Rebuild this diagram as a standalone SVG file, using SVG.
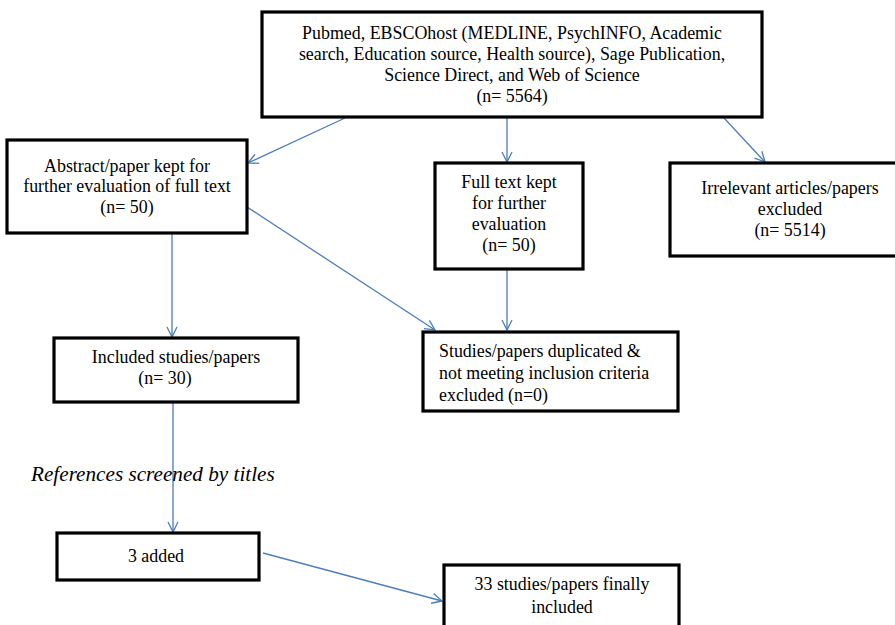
<svg xmlns="http://www.w3.org/2000/svg" width="895" height="625" viewBox="0 0 895 625">
<defs>
<style>
.box{fill:#fff;stroke:#000;stroke-width:3.2}
.t{font-family:"Liberation Serif","Times New Roman",serif;font-size:17.9px;fill:#000}
.c{text-anchor:middle}
.it{font-style:italic;font-size:21.2px}
.con{stroke:#4a7ebb;stroke-width:1.3;fill:none}
</style>
<marker id="ah" viewBox="0 0 12 12" refX="11" refY="6" markerWidth="12" markerHeight="12" markerUnits="userSpaceOnUse" orient="auto">
<path d="M1,1 L11,6 L1,11" fill="none" stroke="#4a7ebb" stroke-width="1.3"/>
</marker>
</defs>
<rect width="895" height="625" fill="#fff"/>
<g id="connectors">
<line class="con" x1="345" y1="118" x2="248" y2="163" marker-end="url(#ah)"/>
<line class="con" x1="507" y1="118" x2="507" y2="162" marker-end="url(#ah)"/>
<line class="con" x1="724" y1="118" x2="765" y2="162" marker-end="url(#ah)"/>
<line class="con" x1="247" y1="207" x2="435" y2="330" marker-end="url(#ah)"/>
<line class="con" x1="507" y1="270" x2="507" y2="330" marker-end="url(#ah)"/>
<line class="con" x1="172" y1="234" x2="172" y2="337" marker-end="url(#ah)"/>
<line class="con" x1="173" y1="403" x2="173" y2="532" marker-end="url(#ah)"/>
<line class="con" x1="263" y1="553" x2="442" y2="601" marker-end="url(#ah)"/>
</g>
<g id="n_sources">
<rect class="box" x="262" y="12" width="500" height="105"/>
<text class="t c" x="512" y="39">Pubmed, EBSCOhost (MEDLINE, PsychINFO, Academic</text>
<text class="t c" x="512" y="60">search, Education source, Health source), Sage Publication,</text>
<text class="t c" x="512" y="81">Science Direct, and Web of Science</text>
<text class="t c" x="512" y="102">(n= 5564)</text>
</g>
<g id="n_abstract">
<rect class="box" x="7" y="140" width="240" height="93"/>
<text class="t c" x="127" y="172">Abstract/paper kept for</text>
<text class="t c" x="127" y="192">further evaluation of full text</text>
<text class="t c" x="127" y="213">(n= 50)</text>
</g>
<g id="n_fulltext">
<rect class="box" x="435" y="163" width="148" height="106"/>
<text class="t c" x="509" y="188">Full text kept</text>
<text class="t c" x="509" y="209">for further</text>
<text class="t c" x="509" y="230">evaluation</text>
<text class="t c" x="509" y="251">(n= 50)</text>
</g>
<g id="n_irrelevant">
<rect class="box" x="670" y="163" width="240" height="93"/>
<text class="t c" x="790" y="194">Irrelevant articles/papers</text>
<text class="t c" x="790" y="215">excluded</text>
<text class="t c" x="790" y="236">(n= 5514)</text>
</g>
<g id="n_duplicated">
<rect class="box" x="423" y="332" width="255" height="79"/>
<text class="t" x="439" y="357">Studies/papers duplicated &amp;</text>
<text class="t" x="439" y="379">not meeting inclusion criteria</text>
<text class="t" x="439" y="401">excluded (n=0)</text>
</g>
<g id="n_included">
<rect class="box" x="54" y="338" width="244" height="64"/>
<text class="t c" x="176" y="363">Included studies/papers</text>
<text class="t c" x="165" y="384">(n= 30)</text>
</g>
<g id="label_refs">
<text class="t it" x="31" y="481">References screened by titles</text>
</g>
<g id="n_added">
<rect class="box" x="57" y="533" width="202" height="47"/>
<text class="t c" x="156" y="562">3 added</text>
</g>
<g id="n_final">
<rect class="box" x="444" y="565" width="235" height="80"/>
<text class="t c" x="562" y="590">33 studies/papers finally</text>
<text class="t c" x="562" y="613">included</text>
</g>
</svg>
